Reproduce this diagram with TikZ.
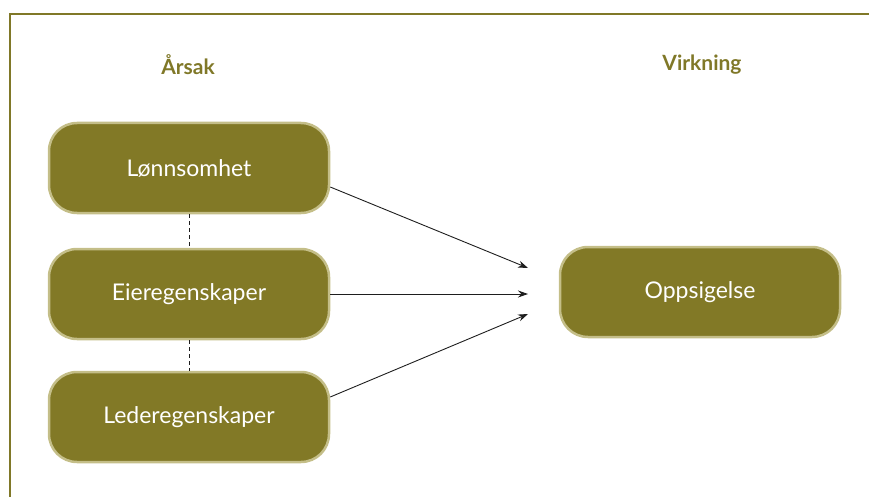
\documentclass[tikz,border=0pt]{standalone}
\usepackage{fontspec}
\setmainfont{Lato}
\usepackage{tikz}
\usetikzlibrary{arrows.meta, positioning, calc}
\usepackage{xcolor}
\definecolor{OliveBox}{RGB}{130, 121, 38}
\definecolor{OliveEdge}{RGB}{196, 190, 136}
\definecolor{OliveHead}{RGB}{128, 120, 40}
\definecolor{ArrowGray}{RGB}{30, 30, 30}

\begin{document}
\begin{tikzpicture}[x=1pt, y=-1pt,
  causebox/.style={draw=OliveEdge, line width=2.5pt, fill=OliveBox, rounded corners=28pt,
    minimum width=280pt, minimum height=90pt, text=white, font=\fontsize{23}{27}\selectfont},
  heading/.style={text=OliveHead, font=\fontsize{21}{25}\selectfont\bfseries},
  effect/.style={-{Stealth[length=10pt, width=7pt]}, ArrowGray, line width=0.9pt}]
\useasboundingbox (0, 0) rectangle (869, 497);
\draw[OliveHead, line width=2.5pt] (10, 497) -- (10, 14) -- (869, 14);
\node[heading] (arsak) at (188, 65) {Årsak};
\node[heading] (virkning) at (702, 65) {Virkning};
\node[causebox] (lonn) at (189, 168) {Lønnsomhet};
\node[causebox] (eier) at (189, 294) {Eieregenskaper};
\node[causebox] (leder) at (189, 417) {Lederegenskaper};
\node[causebox] (opp) at (700, 292) {Oppsigelse};
\draw[dash pattern=on 4pt off 3pt, ArrowGray, line width=0.8pt] (lonn) -- (eier);
\draw[dash pattern=on 4pt off 3pt, ArrowGray, line width=0.8pt] (eier) -- (leder);
\coordinate (t1) at (528, 268);
\coordinate (t2) at (528, 294);
\coordinate (t3) at (528, 314);
\draw[effect] ([yshift=-19pt]lonn.east) -- (t1);
\draw[effect] (eier.east) -- (t2);
\draw[effect] ([yshift=20pt]leder.east) -- (t3);
\end{tikzpicture}
\end{document}
